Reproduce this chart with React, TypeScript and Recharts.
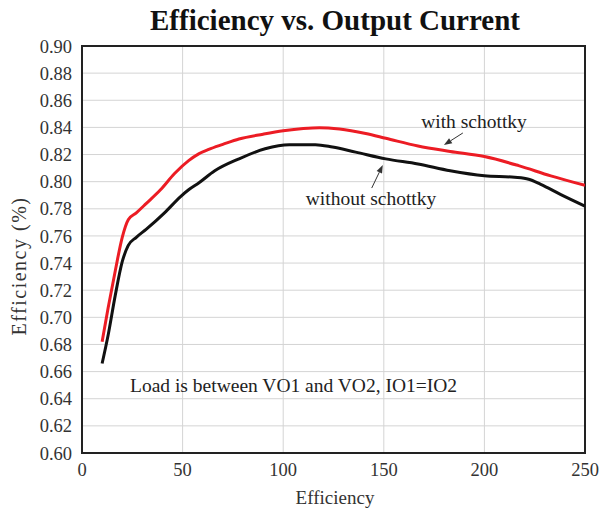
import {
  CartesianGrid,
  Line,
  LineChart,
  ReferenceArea,
  ReferenceLine,
  XAxis,
  YAxis,
} from "recharts";

const withX = [10, 13, 16.5, 20, 23, 27, 32, 39, 46, 53, 58, 63, 70, 78, 90, 100, 110, 118, 128, 141, 151, 167, 183, 200, 217, 233, 250];
const withY = [0.682, 0.707, 0.734, 0.759, 0.772, 0.777, 0.784, 0.794, 0.806, 0.8155, 0.8205, 0.8238, 0.8275, 0.8315, 0.835, 0.8375, 0.8392, 0.8398, 0.8388, 0.8355, 0.832, 0.8263, 0.8223, 0.8185, 0.8118, 0.8043, 0.7973];

const withoutX = [10, 13, 16.5, 20, 23, 27, 32, 41, 49, 53, 58, 66, 78, 91, 103, 116, 124.5, 136, 151, 167, 183, 200, 215, 222, 228, 238, 250];
const withoutY = [0.666, 0.687, 0.716, 0.741, 0.753, 0.759, 0.765, 0.777, 0.789, 0.794, 0.799, 0.808, 0.8168, 0.8243, 0.8273, 0.8273, 0.8255, 0.8218, 0.8168, 0.813, 0.808, 0.8043, 0.8032, 0.8018, 0.798, 0.7905, 0.782];

const xTicks = [0, 50, 100, 150, 200, 250];
const yTicks = [0.6, 0.62, 0.64, 0.66, 0.68, 0.7, 0.72, 0.74, 0.76, 0.78, 0.8, 0.82, 0.84, 0.86, 0.88, 0.9];

// arrow segments pointing from the labels to the curves
const withArrow = [{ x: 189.3, y: 0.8359 }, { x: 179.9, y: 0.827 }];
const withoutArrow = [{ x: 144.0, y: 0.7953 }, { x: 149.5, y: 0.8123 }];

const withData = withX.map((x, i) => ({ x, y: withY[i] }));
const withoutData = withoutX.map((x, i) => ({ x, y: withoutY[i] }));

const FONT = '"Liberation Serif", "Times New Roman", serif';
const tick = { fontSize: 18.5, fill: "#333", fontFamily: FONT };

const Arrow = (props: any) => {
  const { x1, y1, x2, y2 } = props;
  const a = Math.atan2(y2 - y1, x2 - x1);
  const len = 8;
  const w = 3;
  const bx = x2 - len * Math.cos(a);
  const by = y2 - len * Math.sin(a);
  const p1 = `${bx + w * Math.sin(a)},${by - w * Math.cos(a)}`;
  const p2 = `${bx - w * Math.sin(a)},${by + w * Math.cos(a)}`;
  return (
    <g>
      <line x1={x1} y1={y1} x2={bx} y2={by} stroke="#333" strokeWidth={1} />
      <polygon points={`${x2},${y2} ${p1} ${p2}`} fill="#333" />
    </g>
  );
};

export default function App() {
  return (
    <div style={{ position: "absolute", left: 0, top: 0, width: 601, height: 516, background: "#fff" }}>
      <LineChart width={601} height={516} margin={{ top: 46, right: 16, bottom: 33, left: 12 }}>
        <CartesianGrid stroke="#d4d4d4" strokeWidth={1} />
        <XAxis
          type="number"
          dataKey="x"
          domain={[0, 250]}
          ticks={xTicks}
          allowDataOverflow
          tick={tick}
          tickLine={false}
          axisLine={false}
          height={30}
          tickMargin={4}
        />
        <YAxis
          type="number"
          dataKey="y"
          domain={[0.6, 0.9]}
          ticks={yTicks}
          allowDataOverflow
          tick={tick}
          tickLine={false}
          axisLine={false}
          width={70}
          tickMargin={4}
          tickFormatter={(v: number) => v.toFixed(2)}
        />
        <Line data={withData} dataKey="y" type="monotone" stroke="#ec1c24" strokeWidth={3} dot={false} isAnimationActive={false} />
        <Line data={withoutData} dataKey="y" type="monotone" stroke="#111" strokeWidth={3} dot={false} isAnimationActive={false} />
        <ReferenceLine segment={withArrow} shape={Arrow} />
        <ReferenceLine segment={withoutArrow} shape={Arrow} />
        <ReferenceArea x1={0} x2={250} y1={0.6} y2={0.9} fill="none" stroke="#222" strokeWidth={2} />
      </LineChart>
      <svg width={601} height={516} style={{ position: "absolute", left: 0, top: 0, pointerEvents: "none" }}>
        <text x={335} y={30} textAnchor="middle" fontFamily={FONT} fontWeight="bold" fontSize={29} fill="#111">
          Efficiency vs. Output Current
        </text>
        <text x={474} y={128} textAnchor="middle" fontFamily={FONT} fontSize={19.5} fill="#222">
          with schottky
        </text>
        <text x={371} y={205} textAnchor="middle" fontFamily={FONT} fontSize={19.5} fill="#222">
          without schottky
        </text>
        <text x={130} y={392} fontFamily={FONT} fontSize={19.5} fill="#222">
          Load is between VO1 and VO2, IO1=IO2
        </text>
        <text x={335} y={504} textAnchor="middle" fontFamily={FONT} fontSize={19} fill="#333">
          Efficiency
        </text>
        <text x={26} y={266} textAnchor="middle" fontFamily={FONT} fontSize={20} letterSpacing={1.5} fill="#333" transform="rotate(-90 26 266)">
          Efficiency (%)
        </text>
      </svg>
    </div>
  );
}
